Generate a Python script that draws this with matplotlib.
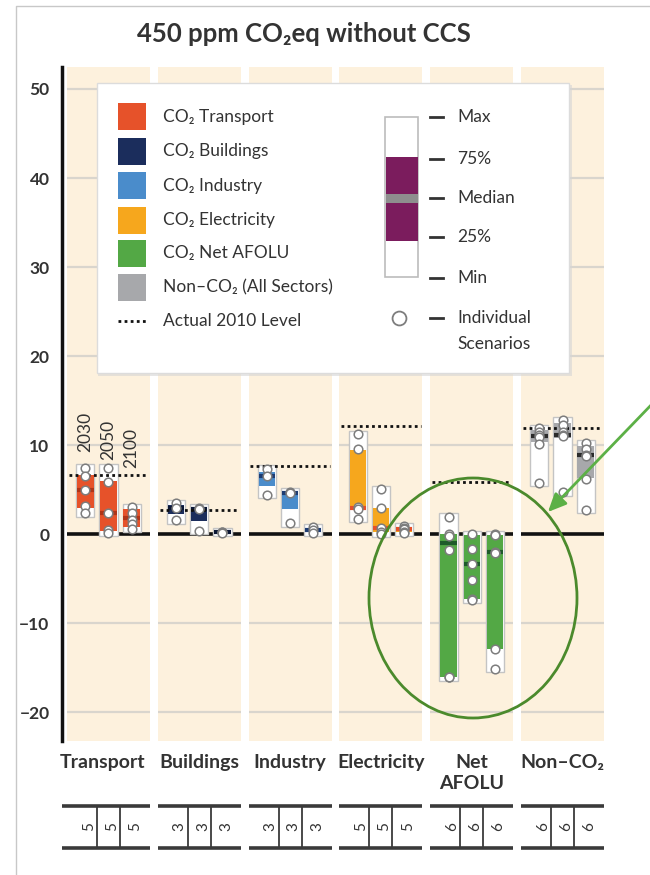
import matplotlib
matplotlib.use("Agg")
import matplotlib.pyplot as plt
from matplotlib.patches import Rectangle, Ellipse

plt.rcParams['font.family'] = ['Lato', 'DejaVu Sans']

# ---- data ----
sectors = ["Transport", "Buildings", "Industry", "Electricity", "Net\nAFOLU", "Non\u2013CO\u2082"]
years = ["2030", "2050", "2100"]
n_scenarios = [5, 3, 3, 5, 6, 6]
level_2010 = [6.7, 2.7, 7.7, 12.2, 5.9, 11.9]

# per sector, per year: max, 75%, median, 25%, min
stat_max = [[7.5, 7.5, 3.1], [3.5, 3.1, 0.35], [7.4, 4.8, 0.8],
            [11.3, 5.1, 0.9], [2.0, 0.0, 0.0], [11.9, 12.8, 10.2]]
stat_q75 = [[6.7, 6.0, 2.9], [3.3, 3.0, 0.3], [7.0, 4.7, 0.7],
            [9.5, 3.0, 0.8], [0.0, -0.1, -0.1], [11.7, 12.5, 9.9]]
stat_med = [[5.0, 2.4, 1.8], [3.0, 2.9, 0.25], [6.6, 4.6, 0.5],
            [3.0, 0.7, 0.6], [-1.0, -3.3, -2.0], [11.0, 11.2, 8.9]]
stat_q25 = [[3.0, 0.4, 0.8], [2.3, 1.5, 0.2], [5.4, 2.9, 0.4],
            [2.8, 0.3, 0.3], [-16.0, -7.3, -12.9], [10.4, 10.8, 6.3]]
stat_min = [[2.3, 0.2, 0.6], [1.5, 0.4, 0.15], [4.4, 1.2, 0.2],
            [1.7, 0.0, 0.2], [-16.1, -7.4, -15.1], [5.8, 4.7, 2.7]]

scenarios = [
    [[7.4, 6.5, 5.0, 3.2, 2.4], [7.4, 5.9, 2.4, 0.5, 0.2], [3.1, 2.4, 1.6, 1.2, 0.6]],
    [[3.5, 3.0, 1.6], [3.0, 2.9, 0.4], [0.3, 0.25, 0.2]],
    [[7.3, 6.6, 4.4], [4.7, 4.6, 1.25], [0.8, 0.5, 0.2]],
    [[11.3, 9.6, 3.1, 2.8, 1.7], [5.1, 3.0, 0.7, 0.3, 0.0], [0.9, 0.7, 0.6, 0.3, 0.2]],
    [[2.0, 0.0, -0.2, -1.8, -16.0, -16.0], [0.0, -1.6, -3.3, -5.1, -7.3, -7.4],
     [0.0, -0.1, -2.0, -2.1, -12.9, -15.1]],
    [[11.9, 11.5, 11.1, 10.9, 10.1, 5.8], [12.8, 12.3, 11.5, 11.2, 11.0, 4.7],
     [10.2, 9.6, 8.9, 8.8, 6.2, 2.7]],
]

box_colors = ["#e6522a", "#1b2d5c", "#4a8ccb", "#f6a71d", "#53a845", "#a7a8ab"]
median_colors = ["#b03518", "#0a1634", "#1d3c73", "#e5502a", "#1e5b2a", "#2b2b2b"]
legend_labels = ["CO\u2082 Transport", "CO\u2082 Buildings", "CO\u2082 Industry",
                 "CO\u2082 Electricity", "CO\u2082 Net AFOLU", "Non\u2013CO\u2082 (All Sectors)"]
box_labels = ["Max", "75%", "Median", "25%", "Min"]

cream = "#fdf1dd"
grid_c = "#d9d5cd"
text_c = "#333333"

W, H = 650, 875
fig = plt.figure(figsize=(W / 100, H / 100), dpi=100)

# main axes, positioned in pixels
ax_l, ax_r, ax_t, ax_b = 62, 610, 66.7, 741
ax = fig.add_axes([ax_l / W, 1 - ax_b / H, (ax_r - ax_l) / W, (ax_b - ax_t) / H])
xlim = (-0.512, 5.523)
ax.set_xlim(*xlim)
ax.set_ylim(-23.2, 52.5)
for s in ["top", "right", "bottom"]:
    ax.spines[s].set_visible(False)
ax.spines["left"].set_linewidth(2.5)
ax.spines["left"].set_color("#111111")
ax.set_xticks([])
ax.set_yticks(range(-20, 51, 10))
ax.tick_params(axis="y", length=0, pad=9, labelsize=12.5, labelcolor=text_c)
for lab in ax.get_yticklabels():
    lab.set_fontweight("bold")

hw = 0.457          # half width of a sector panel
offsets = [-0.255, 0.0, 0.255]
bw = 0.2
pad = 0.35
year_label_y = [9.3, 8.3, 7.4]   # staggered year labels above the transport bars

for i in range(len(sectors)):
    ax.axvspan(i - hw, i + hw, color=cream, zorder=0, lw=0)
    for g in range(-20, 51, 10):
        if g != 0:
            ax.hlines(g, i - hw, i + hw, color=grid_c, lw=1.6, zorder=1)
    ax.hlines(0, i - hw, i + hw, color="#111111", lw=2.6, zorder=2)
    ax.hlines(level_2010[i], i - hw + 0.02, i + hw - 0.02, color="#111111",
              lw=2, linestyles=(0, (1, 1.2)), zorder=6)
    for j in range(3):
        x = i + offsets[j]
        lo, hi = stat_min[i][j], stat_max[i][j]
        ax.bar(x, hi - lo + 2 * pad, bottom=lo - pad, width=bw, color="white",
               edgecolor="#c4c4c4", lw=1, zorder=3)
        ax.bar(x, stat_q75[i][j] - stat_q25[i][j], bottom=stat_q25[i][j],
               width=bw - 0.02, color=box_colors[i], lw=0, zorder=4)
        ax.hlines(stat_med[i][j], x - (bw - 0.02) / 2, x + (bw - 0.02) / 2,
                  color=median_colors[i], lw=3, zorder=5)
        pts = scenarios[i][j]
        ax.plot([x] * len(pts), pts, "o", ms=6.2, mfc="white", mec="#7d7d7d",
                mew=1.1, zorder=7)
        if i == 0:
            ax.text(x, year_label_y[j], years[j], rotation=90, ha="center",
                    va="bottom", fontsize=12.5, color=text_c, zorder=7)

# title
fig.text(304 / W, 1 - 34 / H, "450 ppm CO\u2082eq without CCS", ha="center",
         va="center", fontsize=18.5, fontweight="bold", color=text_c)

# ---- bottom labels and scenario-count table (x in data, y in pixels) ----
tax = fig.add_axes([ax_l / W, 0, (ax_r - ax_l) / W, 1 - ax_b / H])
tax.set_xlim(*xlim)
tax.set_ylim(H, ax_b)
tax.axis("off")
row_top, row_bot = 806, 848
for i, name in enumerate(sectors):
    left = i - hw - (0.06 if i == 0 else 0)
    cx = i - (0.07 if i == 0 else 0)
    tax.text(cx, 754, name, ha="center", va="top", fontsize=14, fontweight="bold",
             color=text_c, linespacing=1.3)
    tax.hlines([row_top, row_bot], left, i + hw, color="#3a3a3a", lw=2.6)
    for d in [(offsets[0] + offsets[1]) / 2, (offsets[1] + offsets[2]) / 2]:
        tax.vlines(i + d, row_top, row_bot, color="#3a3a3a", lw=1.3)
    for j in range(3):
        tax.text(i + offsets[j] + 0.04, (row_top + row_bot) / 2, str(n_scenarios[i]),
                 rotation=90, ha="center", va="center", fontsize=11, color=text_c)

# ---- legend box, drawn in pixel coordinates ----
lax = fig.add_axes([88 / W, 1 - 382 / H, 490 / W, 306 / H], zorder=8)
lax.set_xlim(88, 578)
lax.set_ylim(382, 76)
lax.axis("off")
lax.add_patch(Rectangle((98.5, 85), 473, 291, facecolor="#d6d6d6", lw=0, alpha=0.6))
lax.add_patch(Rectangle((96.7, 83.3), 472.3, 289.7, facecolor="white",
                        edgecolor="#dcdcdc", lw=1))
row_y = [116.7, 151, 185.7, 220, 253, 287.3]
for k, yc in enumerate(row_y):
    lax.add_patch(Rectangle((118, yc - 13.5), 28, 27, facecolor=box_colors[k], lw=0))
    lax.text(162.7, yc, legend_labels[k], va="center", ha="left", fontsize=12.5,
             color=text_c)
lax.plot([118, 147], [320.7, 320.7], color="#111111", lw=2, ls=(0, (1, 1.2)))
lax.text(162.7, 320.7, "Actual 2010 Level", va="center", ha="left", fontsize=12.5,
         color=text_c)

lax.add_patch(Rectangle((385, 116.7), 33, 160.3, facecolor="white",
                        edgecolor="#bcbcbc", lw=1.2))
lax.add_patch(Rectangle((385.5, 157.3), 32, 83.4, facecolor="#7b1c5d", lw=0))
lax.add_patch(Rectangle((385.5, 194), 32, 8.7, facecolor="#8e8e8e", lw=0))
box_y = [116.7, 159, 197.7, 236.7, 278.3]
for lbl, yc in zip(box_labels, box_y):
    lax.plot([430, 443], [yc, yc], color="#333333", lw=2)
    lax.text(457, yc, lbl, va="center", ha="left", fontsize=12.5, color=text_c)
lax.plot([399], [318], "o", ms=10, mfc="white", mec="#7d7d7d", mew=1.3)
lax.plot([430, 443], [318, 318], color="#333333", lw=2)
lax.text(457, 318, "Individual", va="center", ha="left", fontsize=12.5, color=text_c)
lax.text(457, 344, "Scenarios", va="center", ha="left", fontsize=12.5, color=text_c)

# ---- overlay: frame, highlight ellipse and arrow ----
oax = fig.add_axes([0, 0, 1, 1], zorder=9)
oax.set_xlim(0, W)
oax.set_ylim(H, 0)
oax.axis("off")
oax.plot([16, 16, W], [H, 6, 6], color="#c8c8c8", lw=1)
oax.add_patch(Ellipse((473, 598), 208, 240, fill=False, edgecolor="#4b8a2c", lw=2))
oax.annotate("", xy=(546, 514), xytext=(654, 402),
             arrowprops=dict(arrowstyle="-|>,head_length=1.1,head_width=0.5",
                             color="#5cb046", lw=2))

fig.savefig("out.png", dpi=100)
